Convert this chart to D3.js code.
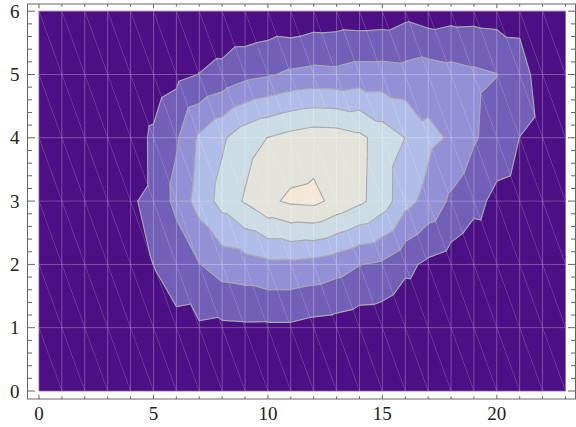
<!DOCTYPE html>
<html>
<head>
<meta charset="utf-8">
<script src="https://cdnjs.cloudflare.com/ajax/libs/d3/7.8.5/d3.min.js"></script>
<style>
body { margin: 0; background: #fff; }
</style>
</head>
<body>
<div id="chart"></div>
<script>
// grid positions
var xs = [0, 1, 2, 3, 4, 5, 6, 7, 8, 9, 10, 11, 12, 13, 14, 15, 16, 17, 18, 19, 20, 21, 22, 23];
var ys = [0, 1, 2, 3, 4, 5, 6];

// values, one row per y, left to right in x
var row0 = [0.05, 0.05, 0.08, 0.1, 0.12, 0.15, 0.2, 0.25, 0.3, 0.3, 0.3, 0.3, 0.28, 0.25, 0.2, 0.18, 0.1, 0.1, 0.1, 0.08, 0.08, 0.06, 0.05, 0.05];
var row1 = [0.05, 0.08, 0.1, 0.15, 0.2, 0.3, 0.9, 0.88, 0.81, 0.845, 0.835, 0.835, 0.66, 0.58, 0.43, 0.4, 0.1, 0.15, 0.2, 0.1, 0.1, 0.1, 0.08, 0.05];
var row2 = [0.08, 0.12, 0.2, 0.3, 0.5, 1.01, 1.2, 1.97, 2.45, 2.57, 2.78, 2.77, 2.65, 2.4, 2.03, 1.83, 1.25, 0.8, 0.55, 0.2, 0.3, 0.3, 0.2, 0.1];
var row3 = [0.1, 0.2, 0.35, 0.6, 0.94, 1.13, 2.32, 3.4, 4.35, 5.1, 5.8, 6.17, 6.25, 5.72, 5.2, 4.53, 3.33, 2.67, 1.83, 1.3, 0.75, 0.63, 0.35, 0.15];
var row4 = [0.1, 0.15, 0.25, 0.4, 0.6, 1.14, 1.875, 3.16, 3.85, 4.6, 5.02, 5.34, 5.55, 5.51, 5.24, 4.55, 3.99, 3.24, 2.89, 2.11, 1.55, 0.99, 0.7, 0.2];
var row5 = [0.05, 0.1, 0.15, 0.2, 0.4, 0.5, 0.74, 1.02, 1.3, 1.7, 1.9, 2.17, 2.29, 2.23, 2.41, 2.42, 2.34, 2.5, 2.35, 2.19, 2.02, 1.6, 0.32, 0.15];
var row6 = [0.05, 0.05, 0.05, 0.05, 0.1, 0.1, 0.1, 0.1, 0.1, 0.11, 0.23, 0.15, 0.36, 0.41, 0.37, 0.42, 0.7, 0.45, 0.6, 0.63, 0.58, 0.55, 0.25, 0.1];
var rows = [row0, row1, row2, row3, row4, row5, row6];

var levels = [1, 2, 3, 4, 5, 6];
var bandColors = ['#4c0f84', '#7260b8', '#9490d6', '#b0bde9', '#cbdce5', '#e3e3dc', '#f3e8d6'];

var xTicks = [0, 5, 10, 15, 20];
var yTicks = [0, 1, 2, 3, 4, 5, 6];

var W = 576, H = 427;
var frame = {left: 27.5, right: 575.5, top: 4, bottom: 399};
var font = "'Liberation Serif', 'Times New Roman', Times, serif";

var svg = d3.select('#chart').append('svg').attr('width', W).attr('height', H);

var x = d3.scaleLinear().domain([0, 23]).range([39, 565.5]);
var y = d3.scaleLinear().domain([0, 6]).range([391, 11.2]);

function pt(i, j) {
    return {x: xs[i], y: ys[j], v: rows[j][i]};
}

// split every grid cell along the diagonal from top-left to bottom-right
var tris = [];
for (var j = 0; j < ys.length - 1; j++) {
    for (var i = 0; i < xs.length - 1; i++) {
        var a = pt(i, j), b = pt(i + 1, j), c = pt(i + 1, j + 1), d = pt(i, j + 1);
        tris.push([a, b, d]);
        tris.push([b, c, d]);
    }
}

function clip(poly, val, above) {
    var out = [];
    for (var k = 0; k < poly.length; k++) {
        var p = poly[k], q = poly[(k + 1) % poly.length];
        var pin = above ? p.v >= val : p.v <= val;
        var qin = above ? q.v >= val : q.v <= val;
        if (pin) out.push(p);
        if (pin !== qin) {
            var t = (val - p.v) / (q.v - p.v);
            out.push({x: p.x + t * (q.x - p.x), y: p.y + t * (q.y - p.y), v: val});
        }
    }
    return out;
}

var pieces = [];
tris.forEach(function (tri) {
    for (var k = 0; k <= levels.length; k++) {
        var poly = tri;
        if (k > 0) poly = clip(poly, levels[k - 1], true);
        if (poly.length >= 3 && k < levels.length) poly = clip(poly, levels[k], false);
        if (poly.length >= 3) pieces.push({band: k, poly: poly});
    }
});

var segs = [];
tris.forEach(function (tri) {
    levels.forEach(function (L) {
        var pts = [];
        for (var k = 0; k < 3; k++) {
            var p = tri[k], q = tri[(k + 1) % 3];
            if ((p.v - L) * (q.v - L) < 0) {
                var t = (L - p.v) / (q.v - p.v);
                pts.push({x: p.x + t * (q.x - p.x), y: p.y + t * (q.y - p.y)});
            }
        }
        if (pts.length === 2) segs.push(pts);
    });
});

var line = d3.line().x(function (p) { return x(p.x); }).y(function (p) { return y(p.y); });

var plot = svg.append('g');

plot.selectAll('path.band')
    .data(pieces)
    .enter()
    .append('path')
    .attr('class', 'band')
    .attr('d', function (d) { return line(d.poly) + 'Z'; })
    .attr('fill', function (d) { return bandColors[d.band]; })
    .attr('stroke', function (d) { return bandColors[d.band]; })
    .attr('stroke-width', 0.6);

// faint seams of the triangle mesh
var mesh = plot.append('g').attr('stroke', '#fff').attr('fill', 'none');
mesh.selectAll('line.v')
    .data(xs)
    .enter()
    .append('line')
    .attr('x1', function (d) { return x(d); })
    .attr('x2', function (d) { return x(d); })
    .attr('y1', y(0))
    .attr('y2', y(6))
    .attr('stroke-opacity', 0.28)
    .attr('stroke-width', 0.9);
mesh.selectAll('line.h')
    .data(ys)
    .enter()
    .append('line')
    .attr('x1', x(0))
    .attr('x2', x(23))
    .attr('y1', function (d) { return y(d); })
    .attr('y2', function (d) { return y(d); })
    .attr('stroke-opacity', 0.28)
    .attr('stroke-width', 0.9);
var diags = [];
for (var j = 0; j < ys.length - 1; j++) {
    for (var i = 0; i < xs.length - 1; i++) {
        diags.push([xs[i], ys[j + 1], xs[i + 1], ys[j]]);
    }
}
mesh.selectAll('line.d')
    .data(diags)
    .enter()
    .append('line')
    .attr('x1', function (d) { return x(d[0]); })
    .attr('y1', function (d) { return y(d[1]); })
    .attr('x2', function (d) { return x(d[2]); })
    .attr('y2', function (d) { return y(d[3]); })
    .attr('stroke-opacity', 0.22)
    .attr('stroke-width', 0.6);

plot.selectAll('path.contour')
    .data(segs)
    .enter()
    .append('path')
    .attr('class', 'contour')
    .attr('d', function (d) { return line(d); })
    .attr('fill', 'none')
    .attr('stroke', '#a9a9a9')
    .attr('stroke-width', 1.1)
    .attr('stroke-linecap', 'round');

// frame and ticks
var axisColor = '#666';
svg.append('rect')
    .attr('x', frame.left)
    .attr('y', frame.top)
    .attr('width', frame.right - frame.left)
    .attr('height', frame.bottom - frame.top)
    .attr('fill', 'none')
    .attr('stroke', axisColor)
    .attr('stroke-width', 1);

var ticks = svg.append('g').attr('stroke', axisColor).attr('stroke-width', 1);
xs.forEach(function (v) {
    var len = xTicks.indexOf(v) >= 0 ? 4.3 : 2.7;
    ticks.append('line').attr('x1', x(v)).attr('x2', x(v)).attr('y1', frame.bottom).attr('y2', frame.bottom - len);
    ticks.append('line').attr('x1', x(v)).attr('x2', x(v)).attr('y1', frame.top).attr('y2', frame.top + len);
});
d3.range(0, 31).forEach(function (k) {
    var v = k / 5;
    var len = k % 5 === 0 ? 7.5 : 4.5;
    ticks.append('line').attr('x1', frame.left).attr('x2', frame.left + len).attr('y1', y(v)).attr('y2', y(v));
    ticks.append('line').attr('x1', frame.right).attr('x2', frame.right - len).attr('y1', y(v)).attr('y2', y(v));
});

svg.append('g').selectAll('text')
    .data(xTicks)
    .enter()
    .append('text')
    .attr('x', function (d) { return x(d); })
    .attr('y', 420)
    .attr('text-anchor', 'middle')
    .attr('font-family', font)
    .attr('font-size', 19)
    .attr('fill', '#222')
    .text(function (d) { return d; });

svg.append('g').selectAll('text')
    .data(yTicks)
    .enter()
    .append('text')
    .attr('x', 19.5)
    .attr('y', function (d) { return y(d) + 6.5; })
    .attr('text-anchor', 'end')
    .attr('font-family', font)
    .attr('font-size', 19)
    .attr('fill', '#222')
    .text(function (d) { return d; });
</script>
</body>
</html>
